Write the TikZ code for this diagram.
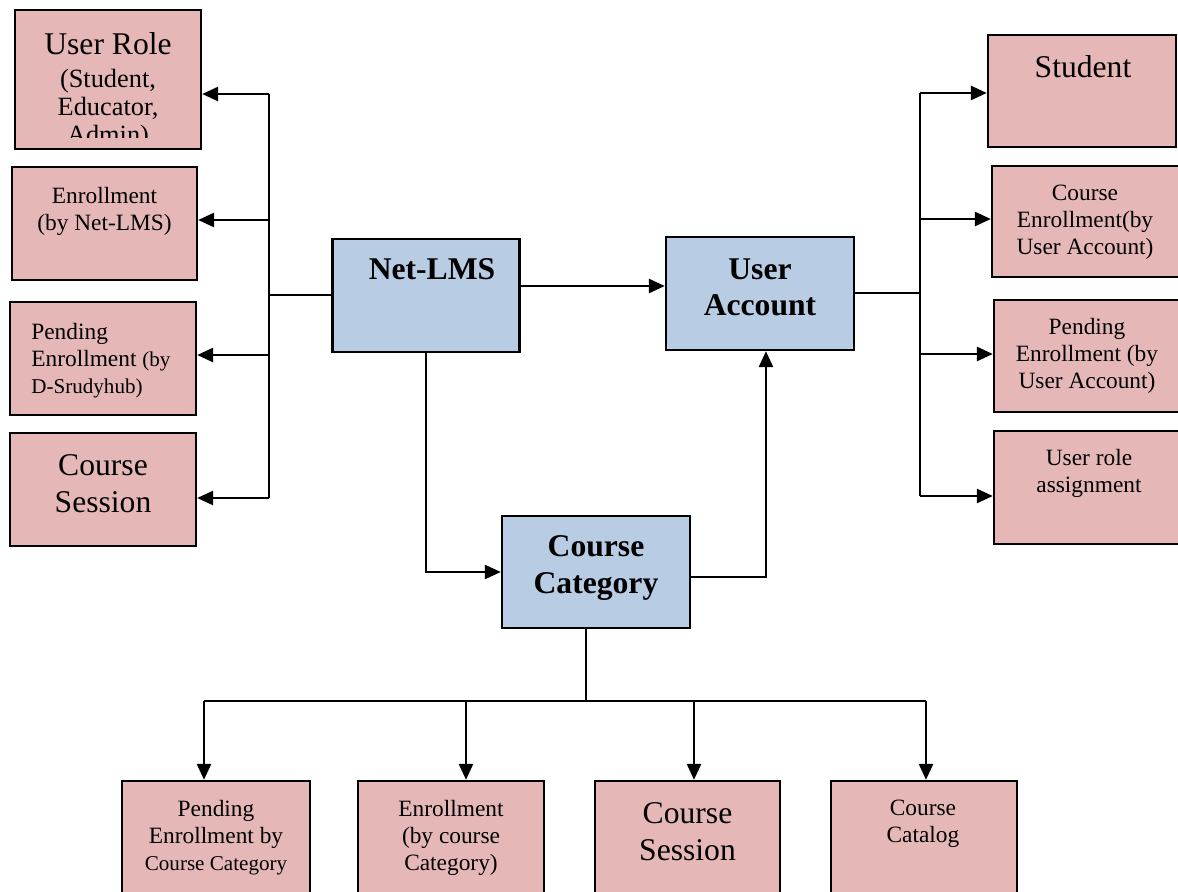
\documentclass[tikz,border=0pt]{standalone}
\usepackage{fontspec}
\setmainfont{Liberation Serif}
\usetikzlibrary{arrows.meta}
\definecolor{boxpink}{RGB}{229,184,183}
\definecolor{boxblue}{RGB}{184,204,228}

\begin{document}
\begin{tikzpicture}[x=0.02cm, y=-0.02cm,
    leafbox/.style={draw, line width=1.4pt, fill=boxpink, minimum width=3.72cm, minimum height=2.26cm, inner sep=0pt},
    hubbox/.style={draw, line width=1.4pt, fill=boxblue, minimum width=3.74cm, minimum height=2.26cm, inner sep=0pt},
    txt/.style={inner sep=0pt, align=center, anchor=north},
    big/.style={font=\fontsize{18}{21}\selectfont},
    mid/.style={font=\fontsize{13.3}{15.4}\selectfont},
    hd/.style={font=\bfseries\fontsize{18}{21}\selectfont},
    ln/.style={line width=1.2pt},
    arr/.style={line width=1.2pt, -{Triangle[length=9pt, width=8pt]}}]
    \path[use as bounding box] (0,0) rectangle (1178,892);
    \clip (0,0) rectangle (1178,892);
    % 中央の箱
    \node[hubbox] (netlms) at (426,295.5) {};
    \node[hubbox, minimum width=3.76cm] (uacc) at (760,293.5) {};
    \node[hubbox, minimum width=3.76cm, minimum height=2.24cm] (ccat) at (596,572) {};
    \node[txt, hd] (netlms-t) at (432,258) {Net-LMS};
    \node[txt, hd] (uacc-t) at (760,258) {User\\Account};
    \node[txt, hd] (ccat-t) at (596,535) {Course\\Category};
    % 左側の箱
    \node[leafbox, minimum height=2.78cm] (role) at (108,79.5) {};
    \node[leafbox, minimum width=3.70cm] (enrol) at (104.5,223.5) {};
    \node[leafbox] (pendl) at (103,358.5) {};
    \node[leafbox] (sessl) at (103,489.5) {};
    \begin{scope}
      \clip (15,10) rectangle (201,138);
      \node[txt, font=\fontsize{15}{15.9}\selectfont] (role-t) at (108,32)
        {{\fontsize{18}{21}\selectfont User Role}\\[2.8pt](Student,\\Educator,\\Admin)};
    \end{scope}
    \node[txt, mid] (enrol-t) at (104.5,187) {Enrollment\\(by Net-LMS)};
    \node[txt, mid, anchor=north west, align=left] (pendl-t) at (31,323)
      {Pending\\Enrollment {\fontsize{12}{15.4}\selectfont(by}\\{\fontsize{12}{15.4}\selectfont D-Srudyhub)}};
    \node[txt, big] (sessl-t) at (103,454) {Course\\Session};
    % 右側の箱
    \node[leafbox, minimum width=3.76cm, minimum height=2.24cm] (student) at (1082,91) {};
    \node[leafbox, minimum width=3.76cm, minimum height=2.22cm] (cenrol) at (1086,221.5) {};
    \node[leafbox, minimum height=2.24cm] (pendr) at (1087,356) {};
    \node[leafbox] (urole) at (1087,487.5) {};
    \node[txt, big] (student-t) at (1083,55) {Student};
    \node[txt, mid] (cenrol-t) at (1085,185) {Course\\Enrollment(by\\User Account)};
    \node[txt, mid] (pendr-t) at (1087,318) {Pending\\Enrollment (by\\User Account)};
    \node[txt, mid] (urole-t) at (1089,449) {User role\\assignment};
    % 下側の箱
    \node[leafbox, minimum width=3.76cm, minimum height=2.48cm] (pcat) at (216,843) {};
    \node[leafbox, minimum height=2.48cm] (benrol) at (451,843) {};
    \node[leafbox, minimum width=3.70cm, minimum height=2.48cm] (bsess) at (687.5,843) {};
    \node[leafbox, minimum height=2.48cm] (catalog) at (924,843) {};
    \node[txt, mid] (pcat-t) at (216,800)
      {Pending\\Enrollment by\\{\fontsize{12}{15.4}\selectfont Course Category}};
    \node[txt, mid] (benrol-t) at (451,800) {Enrollment\\(by course\\Category)};
    \node[txt, big] (bsess-t) at (687.5,802) {Course\\Session};
    \node[txt, mid] (catalog-t) at (923,800) {Course\\Catalog};
    % 左の分岐
    \coordinate (lj) at (269,295);
    \coordinate (l1) at (269,94);
    \coordinate (l2) at (269,220);
    \coordinate (l3) at (269,355);
    \coordinate (l4) at (269,498);
    \draw[ln] (lj -| netlms.west) -- (lj);
    \draw[ln] (l1) -- (l4);
    \foreach \p/\b in {l1/role, l2/enrol, l3/pendl, l4/sessl}
      \draw[arr] (\p) -- (\p -| \b.east);
    % 右の分岐
    \coordinate (rj) at (920,293);
    \coordinate (r1) at (920,93);
    \coordinate (r2) at (920,219);
    \coordinate (r3) at (920,354);
    \coordinate (r4) at (920,496);
    \draw[ln] (rj -| uacc.east) -- (rj);
    \draw[ln] (r1) -- (r4);
    \foreach \p/\b in {r1/student, r2/cenrol, r3/pendr, r4/urole}
      \draw[arr] (\p) -- (\p -| \b.west);
    % 中央の矢印
    \coordinate (a1) at (519,286);
    \draw[arr] (a1) -- (a1 -| uacc.west);
    \draw[arr, line width=0.9pt] (netlms.south) |- (ccat.west);
    \draw[arr] ([yshift=-2.8pt]ccat.east) -| ([xshift=3.4pt]uacc.south);
    % 下の分岐
    \coordinate (bj) at (586,701);
    \coordinate (b1) at (204,701);
    \coordinate (b2) at (466,701);
    \coordinate (b3) at (694,701);
    \coordinate (b4) at (926,701);
    \draw[ln] (bj |- ccat.south) -- (bj);
    \draw[ln] (b1) -- (b4);
    \foreach \p/\b in {b1/pcat, b2/benrol, b3/bsess, b4/catalog}
      \draw[arr] (\p) -- (\p |- \b.north);
  \end{tikzpicture}
\end{document}
